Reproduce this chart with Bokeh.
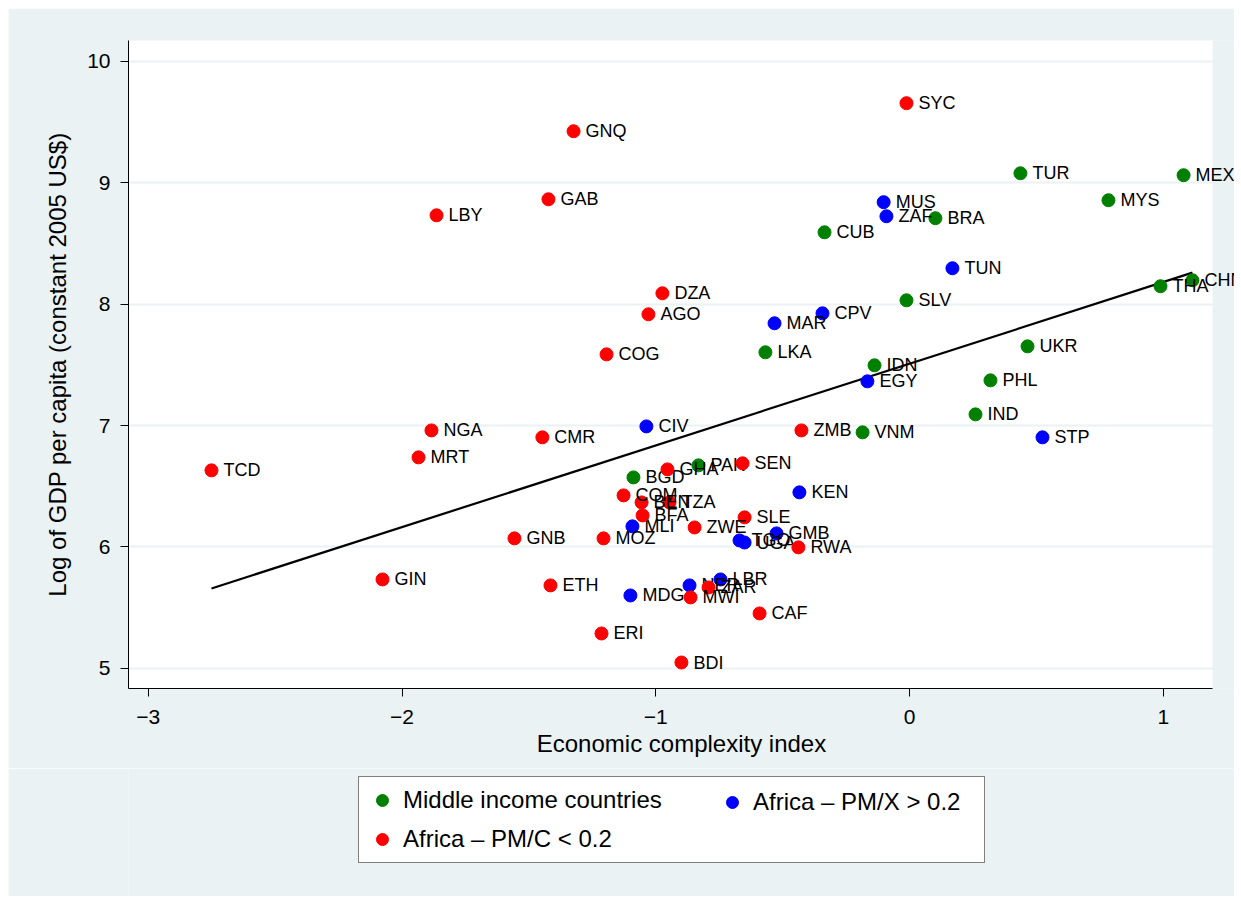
from bokeh.plotting import figure
from bokeh.layouts import column
from bokeh.models import Range1d, FixedTicker, Legend, LegendItem, BoxAnnotation
from bokeh.embed import file_html
from bokeh.resources import INLINE
from bokeh.core.properties import value

# Middle income countries
mid_codes = ["TUR", "MEX", "MYS", "BRA", "CUB", "CHN", "THA", "SLV", "LKA", "UKR",
             "IDN", "PHL", "IND", "VNM", "PAK", "BGD"]
mid_eci = [0.437, 1.080, 0.784, 0.102, -0.335, 1.115, 0.989, -0.012, -0.568, 0.465,
           -0.138, 0.319, 0.260, -0.185, -0.832, -1.088]
mid_gdp = [9.077, 9.061, 8.855, 8.707, 8.591, 8.196, 8.147, 8.031, 7.603, 7.652,
           7.496, 7.372, 7.092, 6.944, 6.672, 6.573]

# Africa - PM/X > 0.2
afx_codes = ["MUS", "ZAF", "TUN", "CPV", "MAR", "EGY", "STP", "CIV", "KEN", "MLI",
             "GMB", "TGO", "UGA", "LBR", "NER", "MDG"]
afx_eci = [-0.102, -0.091, 0.169, -0.343, -0.532, -0.166, 0.524, -1.037, -0.434, -1.092,
           -0.524, -0.670, -0.650, -0.745, -0.867, -1.100]
afx_gdp = [8.839, 8.723, 8.295, 7.924, 7.842, 7.364, 6.903, 6.993, 6.450, 6.170,
           6.112, 6.054, 6.037, 5.733, 5.684, 5.601]

# Africa - PM/C < 0.2
afc_codes = ["SYC", "GNQ", "GAB", "LBY", "DZA", "AGO", "COG", "NGA", "CMR", "MRT",
             "TCD", "ZMB", "SEN", "GHA", "COM", "BEN", "TZA", "BFA", "ZWE", "SLE",
             "RWA", "MOZ", "GNB", "GIN", "ETH", "ZAR", "MWI", "CAF", "ERI", "BDI"]
afc_eci = [-0.012, -1.324, -1.423, -1.864, -0.974, -1.029, -1.194, -1.884, -1.447, -1.935,
           -2.751, -0.426, -0.658, -0.954, -1.127, -1.056, -0.946, -1.052, -0.847, -0.650,
           -0.438, -1.206, -1.557, -2.077, -1.415, -0.792, -0.863, -0.591, -1.214, -0.899]
afc_gdp = [9.654, 9.423, 8.863, 8.731, 8.089, 7.916, 7.586, 6.960, 6.903, 6.738,
           6.631, 6.960, 6.689, 6.639, 6.425, 6.367, 6.367, 6.260, 6.161, 6.244,
           5.997, 6.071, 6.071, 5.733, 5.684, 5.667, 5.585, 5.453, 5.288, 5.049]

# Linear fit
fit_slope = 0.6726
fit_intercept = 7.509

x_ticks = [-3, -2, -1, 0, 1]
y_ticks = [5, 6, 7, 8, 9, 10]
x_lo, x_hi = -3.078, 1.194     # plot region limits
y_lo, y_hi = 4.835, 10.17

FONT = "Liberation Sans"
BG = "#EAF2F3"

# frame extends to the right edge so that labels may run past the plot region
x_frame_hi = x_lo + (1106 / (1084 / (x_hi - x_lo)))

p = figure(width=1226, height=760, output_backend="svg", toolbar_location=None,
           x_range=Range1d(x_lo, x_frame_hi), y_range=Range1d(y_lo, y_hi),
           min_border_left=120, min_border_right=0, min_border_top=32, min_border_bottom=80)
p.background_fill_color = BG
p.border_fill_color = BG
p.outline_line_color = None
p.add_layout(BoxAnnotation(left=x_lo, right=x_hi, fill_color="white", fill_alpha=1,
                           line_color=None, level="image"))

p.xgrid.grid_line_color = None
p.ygrid.grid_line_color = BG
p.ygrid.grid_line_width = 2

p.xaxis.ticker = FixedTicker(ticks=x_ticks)
p.yaxis.ticker = FixedTicker(ticks=y_ticks)
p.xaxis.bounds = (x_lo, x_hi)
for ax in (p.xaxis, p.yaxis):
    ax.minor_tick_line_color = None
    ax.major_tick_in = 0
    ax.major_tick_out = 8
    ax.major_tick_line_color = "black"
    ax.axis_line_color = "black"
    ax.major_label_text_font = FONT
    ax.major_label_text_font_size = "21px"
    ax.major_label_text_color = "black"
    ax.axis_label_text_font = FONT
    ax.axis_label_text_font_size = "24px"
    ax.axis_label_text_font_style = "normal"
    ax.axis_label_text_color = "black"
p.yaxis.major_label_orientation = "horizontal"
p.xaxis.axis_label = "Economic complexity index"
p.yaxis.axis_label = "Log of GDP per capita (constant 2005 US$)"
p.yaxis.major_label_standoff = 10
p.yaxis.axis_label_standoff = 13
p.xaxis.major_label_standoff = 13
p.xaxis.axis_label_standoff = 3

all_eci = mid_eci + afx_eci + afc_eci
x0, x1 = min(all_eci), max(all_eci)
p.line([x0, x1], [fit_intercept + fit_slope * x0, fit_intercept + fit_slope * x1],
       line_color="black", line_width=2.2)

groups = [
    ("Middle income countries", mid_codes, mid_eci, mid_gdp, "#008000"),
    ("Africa \u2013 PM/X > 0.2", afx_codes, afx_eci, afx_gdp, "#0000FF"),
    ("Africa \u2013 PM/C < 0.2", afc_codes, afc_eci, afc_gdp, "#FF0000"),
]
for name, codes, xs, ys, col in groups:
    p.scatter(xs, ys, size=13, fill_color=col, line_color=col)
    p.text(xs, ys, text=codes, x_offset=12, text_baseline="middle",
           text_font=value(FONT), text_font_size="18px", text_color="black")

# legend strip below the plot (its ranges keep the series out of view; only the legend shows)
p2 = figure(width=1226, height=128, output_backend="svg", toolbar_location=None,
            x_range=Range1d(0, 1), y_range=Range1d(0, 1),
            min_border_left=120, min_border_right=0, min_border_top=0, min_border_bottom=0)
p2.axis.visible = False
p2.grid.visible = False
p2.background_fill_color = BG
p2.border_fill_color = BG
p2.outline_line_color = None
leg_r = {}
for name, codes, xs, ys, col in groups:
    leg_r[name] = p2.scatter(xs, ys, size=13, fill_color=col, line_color=col)


def style_legend(lg):
    lg.label_text_font = FONT
    lg.label_text_font_size = "24px"
    lg.label_text_color = "black"
    lg.glyph_width = 30
    lg.glyph_height = 30
    lg.label_standoff = 6
    lg.spacing = 9
    lg.padding = 8
    lg.margin = 0


legend_a = Legend(items=[
    LegendItem(label="Middle income countries", renderers=[leg_r["Middle income countries"]]),
    LegendItem(label="Africa \u2013 PM/C < 0.2", renderers=[leg_r["Africa \u2013 PM/C < 0.2"]]),
], location=(230, 33), label_width=573)
style_legend(legend_a)
legend_a.border_line_color = "black"
legend_a.border_line_width = 1
legend_a.background_fill_color = "white"
legend_a.background_fill_alpha = 1
p2.add_layout(legend_a)

legend_b = Legend(items=[
    LegendItem(label="Africa \u2013 PM/X > 0.2", renderers=[leg_r["Africa \u2013 PM/X > 0.2"]]),
], location=(589, 79))
style_legend(legend_b)
legend_b.border_line_color = None
legend_b.background_fill_alpha = 0
p2.add_layout(legend_b)

layout = column(p, p2, spacing=0)
layout.margin = (8, 0, 0, 8)

open("out.html", "w").write(file_html(layout, INLINE))
